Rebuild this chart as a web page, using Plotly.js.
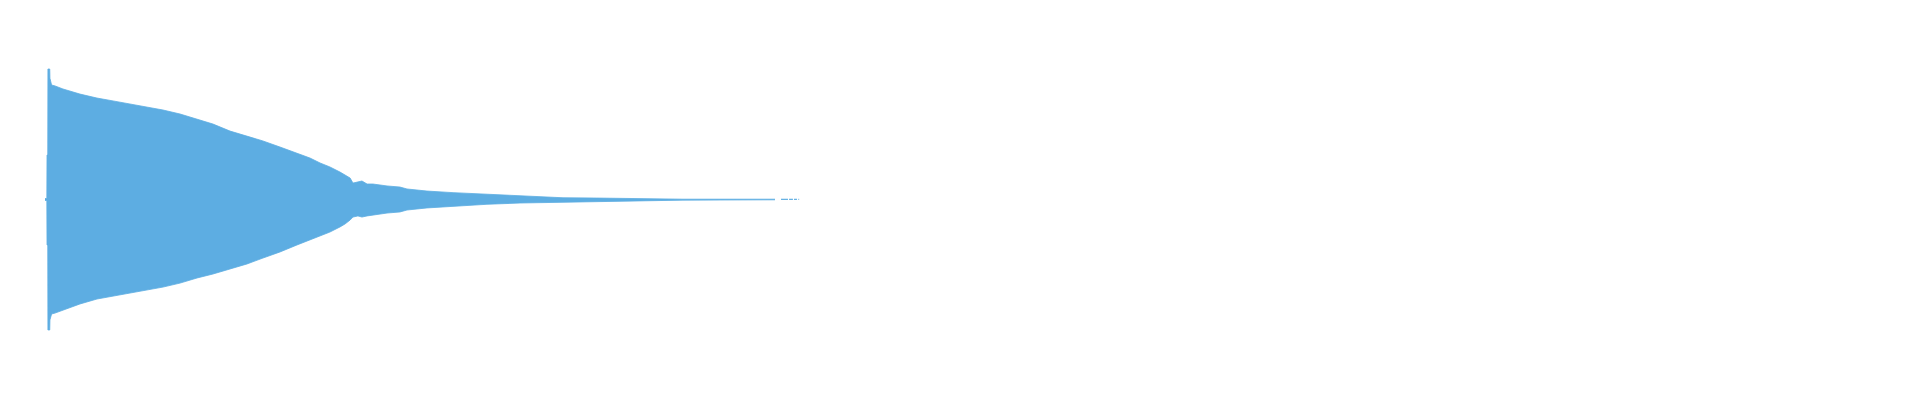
<!DOCTYPE html>
<html>
<head>
<meta charset="utf-8">
<script src="https://cdn.plot.ly/plotly-3.0.1.min.js"></script>
<style>
  html, body { margin: 0; padding: 0; background: #fff; }
  #wave { width: 1920px; height: 400px; }
</style>
</head>
<body>
<div id="wave"></div>
<script>
// envelope of the waveform (time in s, amplitude -1..1)
var time = [0, 0.010, 0.011, 0.015, 0.016, 0.026, 0.027, 0.032, 0.036, 0.055, 0.098, 0.191, 0.284,
            0.372, 0.464, 0.557, 0.645, 0.738, 0.831, 0.918, 1.011, 1.104, 1.191,
            1.284, 1.377, 1.448, 1.503, 1.557, 1.612, 1.639, 1.667, 1.683, 1.710,
            1.732, 1.760, 1.792, 1.869, 1.940, 1.978, 2.087, 2.230, 2.415, 2.596,
            2.694, 2.831, 3.016, 3.197, 3.486, 3.989];
var upper = [0.006, 0.006, 0.279, 0.279, 0.818, 0.818, 0.760, 0.725, 0.718, 0.712, 0.693, 0.661, 0.636,
             0.618, 0.599, 0.580, 0.561, 0.536, 0.505, 0.473, 0.429, 0.398, 0.367,
             0.329, 0.292, 0.260, 0.229, 0.204, 0.172, 0.154, 0.135, 0.103, 0.110,
             0.116, 0.097, 0.097, 0.085, 0.078, 0.066, 0.053, 0.043, 0.033, 0.022,
             0.019, 0.011, 0.009, 0.005, 0.002, 0.002];
var lower = [-0.006, -0.006, -0.285, -0.285, -0.818, -0.818, -0.755, -0.722, -0.718, -0.712, -0.693, -0.655, -0.624,
             -0.605, -0.586, -0.567, -0.549, -0.524, -0.492, -0.467, -0.436, -0.404, -0.367,
             -0.329, -0.285, -0.254, -0.229, -0.204, -0.172, -0.154, -0.129, -0.110, -0.103,
             -0.110, -0.103, -0.097, -0.085, -0.078, -0.066, -0.053, -0.041, -0.030, -0.022,
             -0.020, -0.016, -0.009, -0.007, -0.004, -0.002];

// broken tail after the main decay
var tailTime = [4.022, 4.060, null, 4.066, 4.087, null, 4.093, 4.109, null, 4.117, 4.121];
var tailAmp  = [0.001, 0.001, null, 0.001, 0.001, null, 0.001, 0.001, null, 0.001, 0.001];

var waveColor = '#5dade2';

var top_trace = {
    x: time,
    y: upper,
    type: 'scatter',
    mode: 'lines',
    line: {color: waveColor, width: 0.8},
    hoverinfo: 'skip'
};

var bottom_trace = {
    x: time,
    y: lower,
    type: 'scatter',
    mode: 'lines',
    fill: 'tonexty',
    fillcolor: waveColor,
    line: {color: waveColor, width: 0.8},
    hoverinfo: 'skip'
};

var tail_trace = {
    x: tailTime,
    y: tailAmp,
    type: 'scatter',
    mode: 'lines',
    connectgaps: false,
    line: {color: waveColor, width: 1.2},
    hoverinfo: 'skip'
};

var layout = {
    width: 1920,
    height: 400,
    margin: {l: 45, r: 45, t: 40, b: 41},
    showlegend: false,
    paper_bgcolor: '#ffffff',
    plot_bgcolor: '#ffffff',
    xaxis: {range: [0, 10], visible: false, fixedrange: true},
    yaxis: {range: [-1, 1], visible: false, fixedrange: true}
};

Plotly.newPlot('wave', [top_trace, bottom_trace, tail_trace], layout, {displayModeBar: false, staticPlot: true});
</script>
</body>
</html>
